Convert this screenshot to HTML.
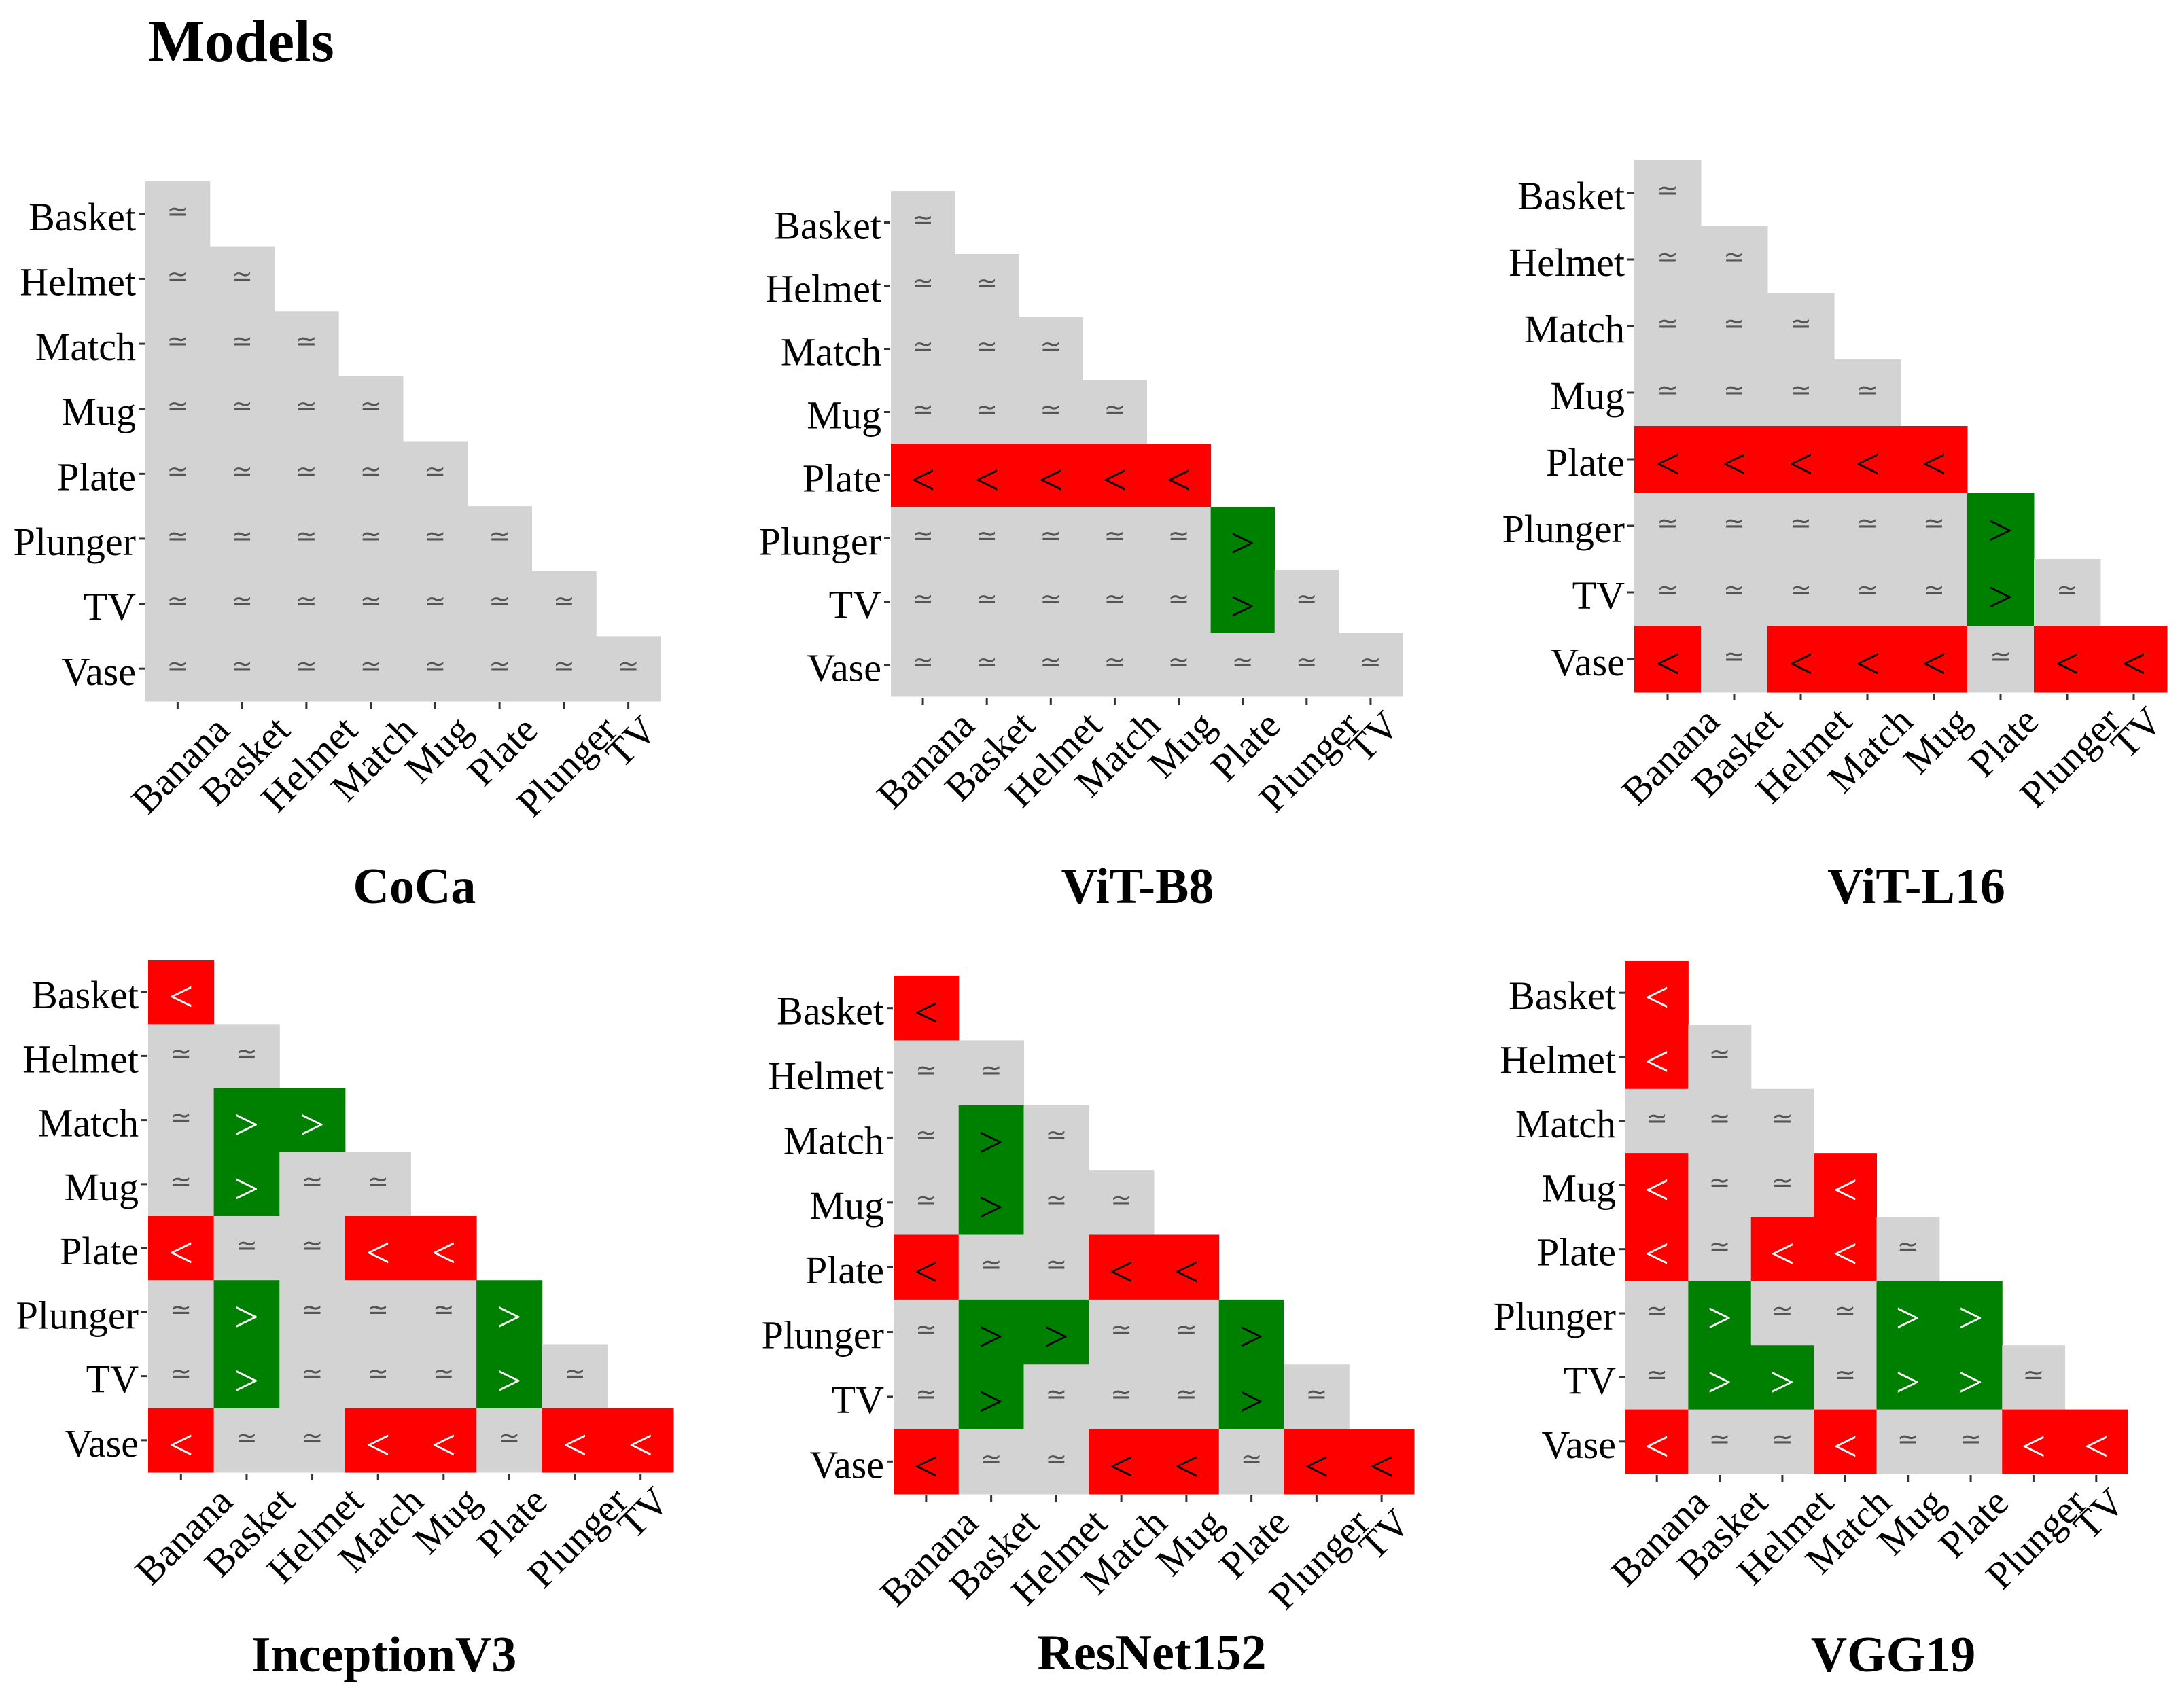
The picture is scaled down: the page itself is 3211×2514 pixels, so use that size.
<!DOCTYPE html>
<html><head><meta charset="utf-8"><style>
html,body{margin:0;padding:0;background:#fff;}
svg{display:block;font-family:"Liberation Serif","DejaVu Serif",serif;}
</style></head><body>
<svg id="fig" width="3211" height="2514" viewBox="0 0 3211 2514" xmlns="http://www.w3.org/2000/svg">
<text x="218" y="90" font-size="88" font-weight="bold" font-family="Liberation Serif, serif">Models</text>
</svg>
<script>
const categoriesX = ["Banana","Basket","Helmet","Match","Mug","Plate","Plunger","TV"];
const categoriesY = ["Basket","Helmet","Match","Mug","Plate","Plunger","TV","Vase"];
const modelNames = ["CoCa","ViT-B8","ViT-L16","InceptionV3","ResNet152","VGG19"];
const cocaValues = ["=","==","===","====","=====","======","=======","========"];
const vitB8Values = ["=","==","===","====","<<<<<","=====>","=====>=","========"];
const vitL16Values = ["=","==","===","====","<<<<<","=====>","=====>=","<=<<<=<<"];
const inceptionValues = ["<","==","=>>","=>==","<==<<","=>===>","=>===>=","<==<<=<<"];
const resnetValues = ["<","==","=>=","=>==","<==<<","=>>==>","=>===>=","<==<<=<<"];
const vggValues = ["<","<=","===","<==<","<=<<=","=>==>>","=>>=>>=","<==<==<<"];

const panelValues = [cocaValues, vitB8Values, vitL16Values, inceptionValues, resnetValues, vggValues];
const panelLayout = [
  {l:214,r:972,t:267,b:1032,tx:610,ty:1329,sym:"#000"},
  {l:1311,r:2064,t:281,b:1025,tx:1674,ty:1329,sym:"#000"},
  {l:2405,r:3189,t:235,b:1019,tx:2820,ty:1329,sym:"#000"},
  {l:218,r:991,t:1413,b:2167,tx:565,ty:2460,sym:"#fff"},
  {l:1315,r:2081,t:1436,b:2199,tx:1695,ty:2457,sym:"#000"},
  {l:2392,r:3131,t:1414,b:2169,tx:2786,ty:2460,sym:"#fff"}
];
const fillFor = {"=":"#d3d3d3","<":"#ff0000",">":"#008000"};
const NS = "http://www.w3.org/2000/svg";
const svg = document.getElementById("fig");
const SERIF = "Liberation Serif, serif";

function mk(tag, attrs, parent){
  const e = document.createElementNS(NS, tag);
  for (const k in attrs) e.setAttribute(k, attrs[k]);
  parent.appendChild(e);
  return e;
}

panelValues.forEach((rows, p) => {
  const L = panelLayout[p];
  const g = mk("g", {}, svg);
  
  
  const nx = categoriesX.length, ny = categoriesY.length;
  const cw = (L.r - L.l) / nx, ch = (L.b - L.t) / ny;
  const xScale = i => L.l + i * cw;
  const yScale = j => L.t + j * ch;
  rows.forEach((row, j) => {
    for (let i = 0; i < row.length; i++) {
      const v = row[i];
      const rect = mk("rect", {x: xScale(i), y: yScale(j), width: cw + 0.5, height: ch + 0.5, fill: fillFor[v]}, g);
      
      
      const cx = xScale(i) + cw / 2, cy = yScale(j) + ch / 2;
      let t;
      if (v === "=") {
        t = mk("text", {x: cx, y: cy + 9, "text-anchor": "middle", "font-size": 38, fill: "#555", "font-family": "DejaVu Sans, sans-serif"}, g);
        t.textContent = "\u2243";
      } else {
        t = mk("text", {x: cx, y: cy + 28, "text-anchor": "middle", "font-size": 64, fill: L.sym, "font-family": SERIF}, g);
        t.textContent = v;
      }
      
      
    }
  });
  categoriesY.forEach((c, j) => {
    const cy = yScale(j) + ch / 2;
    const tk = mk("line", {x1: L.l - 10, x2: L.l - 1, y1: cy, y2: cy, stroke: "#333", "stroke-width": 3}, g);
    
    
    const t = mk("text", {x: L.l - 14, y: cy + 24, "text-anchor": "end", "font-size": 58, fill: "#000", "font-family": SERIF}, g);
    t.textContent = c;
    
    
  });
  categoriesX.forEach((c, i) => {
    const cx = xScale(i) + cw / 2;
    const tk = mk("line", {x1: cx, x2: cx, y1: L.b + 2, y2: L.b + 12, stroke: "#333", "stroke-width": 3}, g);
    
    
    const t = mk("text", {x: 0, y: 0, "text-anchor": "middle", "dominant-baseline": "central", "font-size": 58, fill: "#000", "font-family": SERIF}, g);
    t.textContent = c;
    
    
    const w = t.getComputedTextLength();
    const h = 40;
    const top = L.b + 18;
    const cy = top + (w + h) / (2 * Math.SQRT2);
    t.setAttribute("transform", "translate(" + (cx + 4) + "," + cy + ") rotate(-45)");
  });
  const title = mk("text", {x: L.tx, y: L.ty, "text-anchor": "middle", "font-size": 74, "font-weight": "bold", fill: "#000", "font-family": SERIF}, g);
  title.textContent = modelNames[p];
  
  
});
</script>
</body></html>
